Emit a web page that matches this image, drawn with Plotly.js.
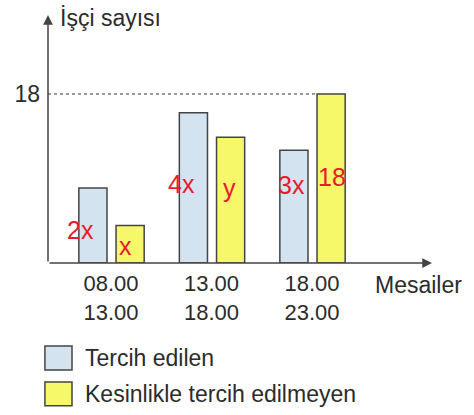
<!DOCTYPE html>
<html><head><meta charset="utf-8">
<script src="https://cdn.plot.ly/plotly-3.0.1.min.js"></script>
<style>html,body{margin:0;padding:0;background:#fff}#chart{width:474px;height:415px}</style>
</head><body><div id="chart"></div>
<script>
// ---- data ----
const categories = ["08.00<br>13.00", "13.00<br>18.00", "18.00<br>23.00"];
const seriesNames = ["Tercih edilen", "Kesinlikle tercih edilmeyen"];
const preferred = [8, 16, 12];
const notPreferred = [4, 13.4, 18];
const yTickVals = [18];
const yTickText = ["18"];
const yTitle = "İşçi sayısı";
const xTitle = "Mesailer";
const redNotes = ["2x", "x", "4x", "y", "3x", "18"];

// ---- styling ----
const FONT = "Liberation Sans, Arial, sans-serif";
const TXT = "#2b2b2b";
const AX = "#444";
const BLUE = "#d3e4f0";
const YELLOW = "#f7f76a";
const idx = categories.map((_, i) => i);

const traces = [
  {type: "bar", x: idx, y: preferred, name: seriesNames[0], width: 0.28, offset: -0.32,
   marker: {color: BLUE, line: {color: AX, width: 1.5}}, showlegend: false, hoverinfo: "skip"},
  {type: "bar", x: idx, y: notPreferred, name: seriesNames[1], width: 0.28, offset: 0.05,
   marker: {color: YELLOW, line: {color: AX, width: 1.5}}, showlegend: false, hoverinfo: "skip"}
];

// red handwritten notes: placement next to bars
const notePos = [[-0.30, 3.5], [0.14, 1.8], [0.70, 8.4], [1.18, 8.0], [1.80, 8.3], [2.20, 9.2]];
const annotations = redNotes.map((t, i) => ({
  x: notePos[i][0], y: notePos[i][1], xref: "x", yref: "y", text: t, showarrow: false,
  font: {family: FONT, size: 25, color: "#ea1a2e"}
}));

// axis arrows
annotations.push({xref: "paper", yref: "paper", x: 0, y: 1, ax: 0, ay: 248, axref: "pixel", ayref: "pixel",
  showarrow: true, arrowhead: 2, arrowsize: 1.3, arrowwidth: 1.5, arrowcolor: AX, text: ""});
annotations.push({xref: "paper", yref: "paper", x: 1, y: 0, ax: -384, ay: 0, axref: "pixel", ayref: "pixel",
  showarrow: true, arrowhead: 2, arrowsize: 1.3, arrowwidth: 1.5, arrowcolor: AX, text: ""});
// axis titles
annotations.push({xref: "paper", yref: "paper", x: 0, y: 1, xanchor: "left", yanchor: "middle", xshift: 10, yshift: -3,
  text: yTitle, showarrow: false, font: {family: FONT, size: 23, color: TXT}});
annotations.push({xref: "paper", yref: "paper", x: 1, y: 0, xanchor: "right", yanchor: "middle", xshift: 32, yshift: -22,
  text: xTitle, showarrow: false, font: {family: FONT, size: 23, color: TXT}});

// manual legend
const legY = [-0.383, -0.528];
const legColors = [BLUE, YELLOW];
const shapes = [];
seriesNames.forEach((n, i) => {
  shapes.push({type: "rect", xref: "paper", yref: "paper", x0: -0.008, x1: 0.0625,
    y0: legY[i] - 0.048, y1: legY[i] + 0.048, fillcolor: legColors[i], line: {color: AX, width: 1.5}});
  annotations.push({xref: "paper", yref: "paper", x: 0.091, y: legY[i], xanchor: "left", yanchor: "middle",
    text: n, showarrow: false, font: {family: FONT, size: 23, color: TXT}});
});
// dotted reference line at 18
shapes.push({type: "line", xref: "paper", yref: "y", x0: 0, x1: (2.05 + 0.627) / 3.821, y0: 18, y1: 18,
  line: {color: "#333", width: 1, dash: "dot"}});

const layout = {
  width: 474, height: 415,
  margin: {l: 48, r: 42, t: 15, b: 152},
  paper_bgcolor: "#fff", plot_bgcolor: "#fff",
  font: {family: FONT, size: 22, color: TXT},
  xaxis: {range: [-0.627, 3.194], tickvals: idx, ticktext: categories, showgrid: false, zeroline: false,
    showline: false, ticks: "", tickfont: {size: 22, color: TXT}, ticklabelstandoff: 5},
  yaxis: {range: [0, 26.41], tickvals: yTickVals, ticktext: yTickText, showgrid: false, zeroline: false,
    showline: false, ticks: "", tickfont: {size: 23, color: TXT}, ticklabelstandoff: 7},
  shapes: shapes,
  annotations: annotations,
  showlegend: false
};

Plotly.newPlot("chart", traces, layout, {staticPlot: true, displayModeBar: false});
</script></body></html>
